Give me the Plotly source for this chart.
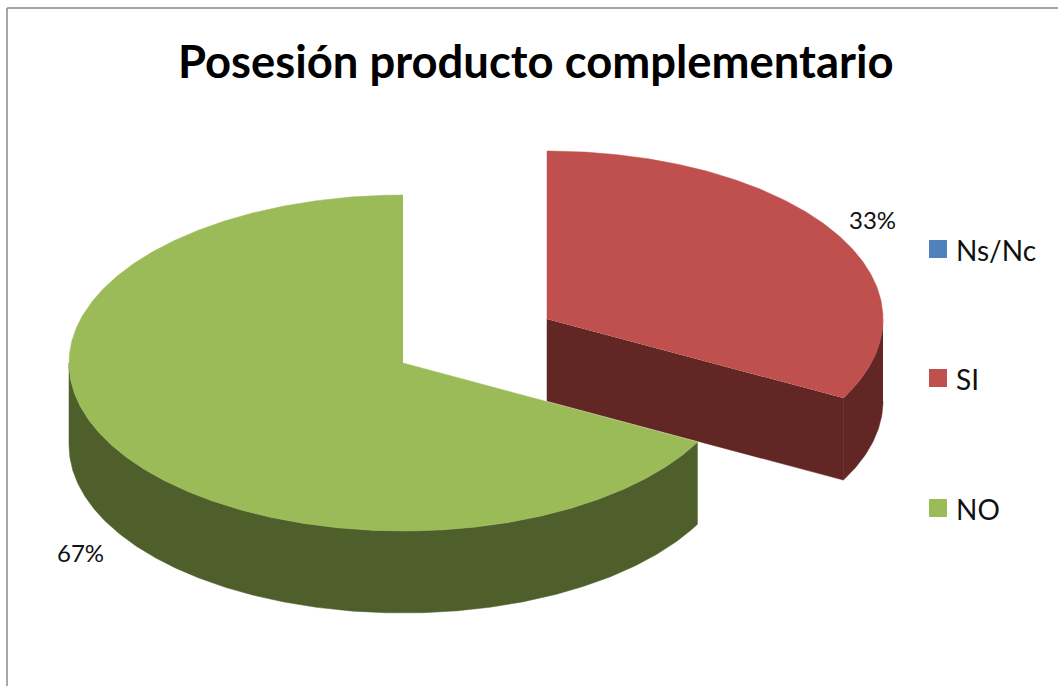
import numpy as np
import plotly.graph_objects as go

categories = ["Ns/Nc", "SI", "NO"]
values = [0.0, 32.8, 67.2]
colors_top = ["#4F81BD", "#C0504D", "#9BBB59"]
colors_side = ["#2F4D71", "#622725", "#4F5F2C"]

RADII_X = {"SI": 336.0, "NO": 334.0}
RY, DEPTH = 168.0, 82.0
CENTERS = {"SI": (547.0, 319.0), "NO": (403.0, 363.0)}
START_ANGLE = {"SI": 0.0}

total = sum(values)
sweep = {c: v / total * 360.0 for c, v in zip(categories, values)}
START_ANGLE["NO"] = sweep["SI"]


def ell(c, a, dz=0.0):
    """a: degrees clockwise from 12 o'clock."""
    cx, cy = CENTERS[c]
    r = np.radians(a)
    return cx + RADII_X[c] * np.sin(r), cy - RY * np.cos(r) + dz


def arc(c, a0, a1, dz=0.0):
    t = np.linspace(a0, a1, max(3, int(abs(a1 - a0) * 2)))
    return ell(c, t, dz)


def poly(fig, x, y, color, name=None):
    fig.add_trace(go.Scatter(x=list(x), y=list(y), mode="lines", fill="toself",
                             fillcolor=color, line=dict(color=color, width=0.5),
                             hoverinfo="skip", showlegend=False, name=name))


fig = go.Figure()

# SI slice (exploded)
c = "SI"
i = categories.index(c)
cx, cy = CENTERS[c]
a0, a1 = START_ANGLE[c], START_ANGLE[c] + sweep[c]
ex, ey = ell(c, a1)
poly(fig, [cx, cx, ex, ex], [cy, cy + DEPTH, ey + DEPTH, ey], colors_side[i])
ox, oy = arc(c, max(a0, 90), a1)
ix, iy = arc(c, a1, max(a0, 90), DEPTH)
poly(fig, np.r_[ox, ix], np.r_[oy, iy], colors_side[i])
tx, ty = arc(c, a0, a1)
poly(fig, np.r_[cx, tx], np.r_[cy, ty], colors_top[i])

# NO slice
c = "NO"
i = categories.index(c)
cx, cy = CENTERS[c]
a0, a1 = START_ANGLE[c], START_ANGLE[c] + sweep[c]
ox, oy = arc(c, a0, 270)
ix, iy = arc(c, 270, a0, DEPTH)
poly(fig, np.r_[ox, ix], np.r_[oy, iy], colors_side[i])
tx, ty = arc(c, a0, a1)
poly(fig, np.r_[cx, tx], np.r_[cy, ty], colors_top[i])

# Percent labels
label_pos = {"SI": (872, 219), "NO": (80, 552)}
for c, (lx, ly) in label_pos.items():
    v = values[categories.index(c)]
    fig.add_annotation(x=lx, y=ly, text=f"{v / total * 100:.0f}%", showarrow=False,
                       font=dict(family="Lato", size=24, color="#111111"))

# Legend
legend_y = [249, 378, 508]
for c, col, ly in zip(categories, colors_top, legend_y):
    fig.add_shape(type="rect", x0=929, x1=947, y0=ly - 9, y1=ly + 9,
                  fillcolor=col, line=dict(width=0))
    fig.add_annotation(x=954, y=ly + 1, text=c, showarrow=False, xanchor="left",
                       font=dict(family="Lato", size=28, color="#111111"))

# Frame
fig.add_shape(type="line", x0=7, x1=1058, y0=8, y1=8, line=dict(color="#8a8a8a", width=1.5))
fig.add_shape(type="line", x0=7, x1=7, y0=8, y1=686, line=dict(color="#8a8a8a", width=1.5))

fig.add_annotation(x=535.5, y=60, text="<b>Posesión producto complementario</b>", showarrow=False,
                   font=dict(family="Lato", size=45.4, color="#000000"))

fig.update_layout(width=1058, height=686, margin=dict(l=0, r=0, t=0, b=0),
                  paper_bgcolor="white", plot_bgcolor="white", showlegend=False,
                  xaxis=dict(range=[0, 1058], visible=False, fixedrange=True),
                  yaxis=dict(range=[686, 0], visible=False, fixedrange=True))
fig.write_html("out.html", config={"displayModeBar": False},
               post_script="document.body.style.margin='0';document.body.style.overflow='hidden';")
